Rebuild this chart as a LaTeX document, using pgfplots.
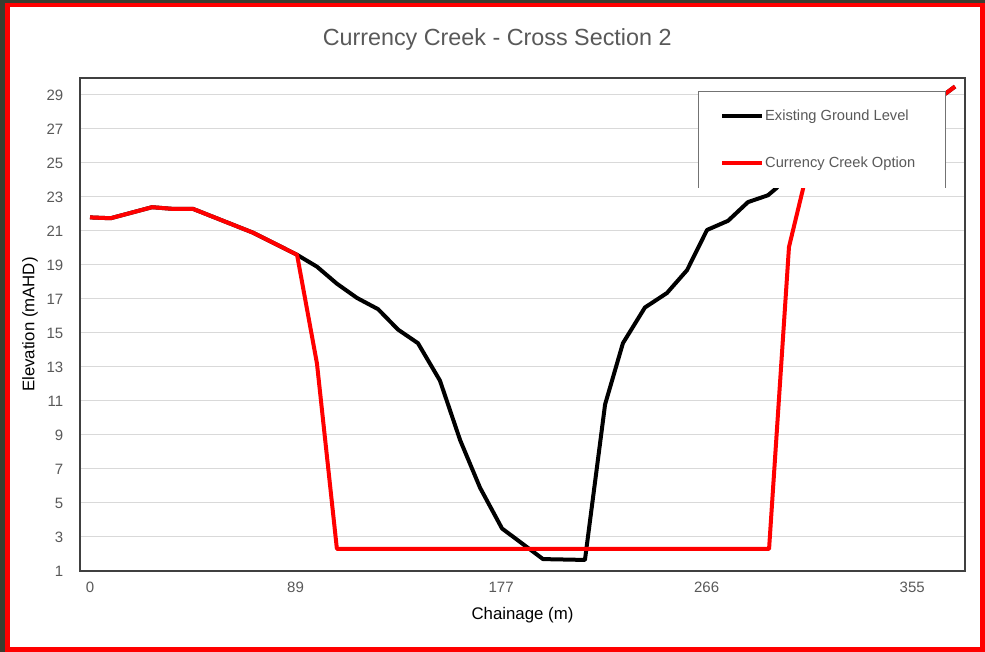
\documentclass[border=0pt]{standalone}
\usepackage{fontspec}
\setmainfont{Liberation Sans}
\usepackage{pgfplots}
\pgfplotsset{compat=1.18}
\definecolor{txtgray}{HTML}{595959}
\definecolor{gridgray}{HTML}{D9D9D9}
\definecolor{bgdark}{HTML}{3B3D30}
\definecolor{frred}{HTML}{FF0000}
\begin{document}
\begin{tikzpicture}
\fill[bgdark] (0,0) rectangle (738.75pt,489pt);
\fill[frred] (3.75pt,0) rectangle (738.75pt,486.75pt);
\fill[white] (7.5pt,3.75pt) rectangle (735pt,483.75pt);
\begin{axis}[
 at={(60pt,60.75pt)}, anchor=south west,
 scale only axis, width=663.75pt, height=369.75pt,
 xmin=-4.32, xmax=377.8, ymin=1, ymax=30,
 xtick={0,88.75,177.5,266.25,355}, xticklabels={0,89,177,266,355},
 ytick={1,3,...,29},
 major tick length=0pt,
 ymajorgrids, grid style={gridgray, line width=0.75pt},
 axis line style={draw=black!75, line width=1.1pt},
 tick label style={font=\fontsize{11.25}{13}\selectfont, text=txtgray},
 /pgf/number format/assume math mode=true,
 yticklabel style={xshift=-9pt},
 xticklabel style={yshift=-4.5pt},
 xlabel={Chainage (m)}, ylabel={Elevation (mAHD)},
 label style={font=\fontsize{12.6}{14}\selectfont},
 xlabel style={at={([yshift=-33pt]rel axis cs:0.5,0)}, anchor=center},
 ylabel style={at={([xshift=-37.5pt]rel axis cs:0,0.5)}, anchor=center},
 title={Currency Creek - Cross Section 2},
 title style={at={([xshift=-19pt,yshift=23.25pt]rel axis cs:0.5,1)}, anchor=center, font=\fontsize{17.5}{20}\selectfont, text=txtgray},
 legend style={at={(0.7231,0.9357)}, anchor=north west, draw=none, fill=none, inner sep=0pt, row sep=25.75pt, column sep=0.75pt, font=\fontsize{11}{13}\selectfont, text=txtgray, nodes={inner sep=0pt}},
 legend cell align=left,
 legend image code/.code={\draw[#1, line width=3pt] (0pt,0pt) -- (30pt,0pt);},
]
\addplot[black, line width=3pt, line join=round] coordinates {
 (0,21.8) (8.9,21.75) (26.8,22.4) (35.8,22.3) (44.5,22.3) (70.4,20.9) (89.4,19.6)
 (98,18.9) (106.6,17.9) (115.3,17.06) (124.4,16.4) (133,15.2) (141.6,14.4)
 (151.1,12.2) (159.8,8.7) (168.4,5.9) (177.9,3.5) (195.6,1.7) (213.7,1.65)
 (222.4,10.8) (230.1,14.4) (239.6,16.5) (249.1,17.35) (257.8,18.7) (266.4,21.06)
 (275.5,21.6) (284.1,22.7) (292.7,23.1) (296.2,23.5) (301,24.2) (310,25.0)
 (320,25.8) (335,26.8) (350,27.8) (369.6,29.1) (373.5,29.5)
};
\addlegendentry{Existing Ground Level}
\addplot[frred, line width=3pt, line join=round] coordinates {
 (0,21.8) (8.9,21.75) (26.8,22.4) (35.8,22.3) (44.5,22.3) (70.4,20.9) (89.4,19.6)
 (98,13.2) (106.6,2.3) (293.2,2.3) (301.8,20.06) (307.9,23.5) (310,25.0)
 (320,25.8) (335,26.8) (350,27.8) (369.6,29.1) (373.5,29.5)
};
\addlegendentry{Currency Creek Option}
\fill[white] (rel axis cs:0.6994,0.7769) rectangle (rel axis cs:0.9774,0.9716);
\draw[black!55, line width=0.75pt] (rel axis cs:0.6994,0.7769) -- (rel axis cs:0.6994,0.9716) -- (rel axis cs:0.9774,0.9716) -- (rel axis cs:0.9774,0.7769);
\end{axis}
\end{tikzpicture}
\end{document}
